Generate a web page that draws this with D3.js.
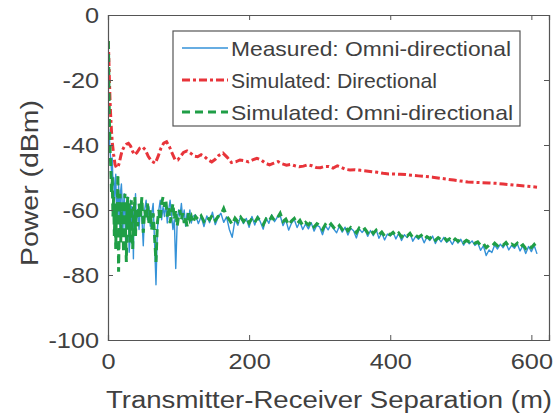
<!DOCTYPE html>
<html><head><meta charset="utf-8">
<script src="https://cdn.jsdelivr.net/npm/d3@7"></script>
<style>
html,body{margin:0;padding:0;background:#fff;}
svg{display:block;font-family:"Liberation Sans",Arial,sans-serif;}
</style></head>
<body><svg id="chart" width="555" height="418"></svg>
<script>
// ---- data (distance m, power dBm) ----
const xTicks = [0, 200, 400, 600];
const yTicks = [0, -20, -40, -60, -80, -100];
const seriesNames = ["Measured: Omni-directional", "Simulated: Directional", "Simulated: Omni-directional"];

const measuredOmni = [
[1,-35],[2,-38],[3,-42],[4,-45],[5,-48],[6,-44],[7,-52],[8,-50],[9,-57],[10,-53],
[11,-49],[12,-60],[13,-55],[14,-63],[15,-52],[16,-58],[17,-66],[18,-54],[19,-52],[20,-57],
[21,-68],[22,-59],[23,-55],[24,-62],[25,-70],[26,-58],[27,-64],[28,-56],[29,-61],[30,-73],
[31,-70],[32,-57],[33,-65],[34,-59],[35,-62],[36,-75],[37,-58],[38,-60],[39,-55],[40,-63],
[42,-60],[44,-66],[46,-58],[48,-62],[50,-71],[52,-60],[54,-57],[56,-63],[58,-59],[60,-65],
[62,-61],[64,-58],[66,-70],[68,-83],[70,-66],[72,-60],[74,-57],[76,-63],[78,-59],[80,-62],
[82,-58],[84,-64],[86,-60],[88,-57],[90,-61],[92,-66],[94,-63],[96,-78],[98,-64],[100,-60],
[102,-62],[104,-58],[106,-63],[108,-60],[110,-65],[112,-61],[114,-63],[116,-60],[118,-64],[120,-62],
[124,-61.5],[128,-64.2],[132,-62.0],[136,-65.1],[140,-61.8],[144,-63.9],[148,-60.7],[152,-64.5],[156,-62.3],[160,-61.0],
[164,-63.8],[168,-62.1],[172,-66.0],[176,-68.4],[180,-63.0],[184,-64.7],[188,-61.9],[192,-64.2],[196,-62.6],[200,-65.3],
[204,-62.0],[208,-64.6],[212,-61.8],[216,-63.7],[220,-65.9],[224,-62.4],[228,-64.1],[232,-61.5],[236,-63.6],[240,-62.2],
[244,-61.7],[248,-64.8],[252,-63.0],[256,-66.2],[260,-64.1],[264,-62.9],[268,-65.4],[272,-63.6],[276,-66.0],[280,-64.3],
[284,-65.8],[288,-63.9],[292,-66.5],[296,-64.7],[300,-65.2],[304,-67.6],[308,-64.8],[312,-66.1],[316,-64.4],[320,-65.9],
[324,-67.0],[328,-64.9],[332,-66.8],[336,-65.3],[340,-67.7],[344,-65.6],[348,-66.4],[352,-68.6],[356,-65.8],[360,-66.9],
[364,-65.9],[368,-68.1],[372,-66.3],[376,-67.9],[380,-66.0],[384,-68.7],[388,-67.1],[392,-69.2],[396,-67.4],[400,-68.0],
[404,-66.8],[408,-68.9],[412,-67.2],[416,-69.4],[420,-67.6],[424,-68.5],[428,-67.0],[432,-69.6],[436,-68.1],[440,-69.0],
[444,-67.9],[448,-70.1],[452,-68.3],[456,-69.4],[460,-68.0],[464,-70.3],[468,-68.6],[472,-69.8],[476,-68.4],[480,-70.0],
[484,-69.1],[488,-70.6],[492,-68.8],[496,-70.2],[500,-69.0],[504,-70.8],[508,-69.3],[512,-70.4],[516,-69.5],[520,-70.9],
[524,-70.1],[528,-72.4],[532,-71.0],[536,-74.0],[540,-72.3],[544,-73.1],[548,-70.8],[552,-72.0],[556,-70.5],[560,-71.6],
[564,-70.2],[568,-72.3],[572,-70.9],[576,-71.8],[580,-70.4],[584,-72.6],[588,-71.0],[592,-73.4],[596,-71.2],[600,-72.8],
[604,-70.9],[608,-73.5]
];

const simulatedDirectional = [
[0.5,-8],[1,-12],[2,-20],[3,-27],[4,-32],[5,-36],[6,-39],[8,-43],[10,-46],[12,-47],
[14,-46.8],[16,-45.5],[18,-43.5],[20,-41.8],[23,-40.5],[26,-39.8],[29,-39.5],[32,-40.3],[35,-42],[38,-43],
[41,-42.3],[45,-41],[49,-40.6],[53,-41.5],[57,-43.5],[62,-45],[67,-45.6],[71,-43.5],[75,-41],[79,-39.4],
[83,-39],[87,-40.5],[91,-42.6],[95,-44.5],[99,-44.6],[103,-43.4],[107,-42.3],[112,-41.8],[117,-42.5],[122,-43.4],
[127,-43.6],[132,-43],[137,-43.6],[142,-44.6],[147,-45.2],[152,-44.4],[157,-43.2],[163,-42.5],[169,-43.8],[175,-45.4],
[181,-45.2],[187,-44.6],[193,-44.8],[199,-45.2],[205,-44.6],[211,-44.1],[217,-44.6],[223,-45.6],[229,-46.1],[235,-45.6],
[241,-45.1],[247,-45.8],[253,-46.2],[259,-46.0],[265,-46.4],[271,-46.7],[277,-46.5],[283,-46.1],[289,-46.4],[295,-46.9],
[301,-47.0],[307,-46.6],[313,-46.6],[319,-47.1],[325,-46.4],[331,-46.9],[337,-47.5],[343,-47.7],[350,-47.6],[358,-47.8],
[366,-48.0],[374,-48.2],[382,-48.4],[390,-48.7],[398,-48.9],[406,-48.9],[414,-49.0],[422,-49.1],[430,-49.3],[440,-49.5],
[450,-49.7],[460,-49.9],[470,-50.2],[480,-50.5],[490,-50.8],[500,-51.1],[510,-51.4],[520,-51.5],[530,-51.6],[540,-51.7],
[550,-51.8],[560,-52.0],[570,-52.2],[580,-52.4],[590,-52.6],[600,-52.8],[608,-53.0]
];

const simulatedOmni = [
[0.5,-8],[1,-15],[1.5,-25],[2,-33],[3,-42],[4,-47],[5,-55],[6,-50],[7,-62],[8,-56],
[9,-68],[10,-60],[11,-72],[12,-58],[13,-65],[14,-49],[15,-79],[16,-63],[17,-55],[18,-70],
[19,-60],[20,-67],[21,-57],[22,-73],[23,-62],[24,-55],[25,-68],[26,-76],[27,-60],[28,-56],
[29,-66],[30,-58],[31,-70],[32,-61],[33,-57],[34,-64],[35,-72],[36,-59],[37,-63],[38,-56],
[39,-68],[40,-60],[42,-65],[44,-58],[46,-62],[48,-56],[50,-67],[52,-60],[54,-63],[56,-58],
[58,-64],[60,-60],[62,-66],[64,-61],[66,-68],[68,-76],[70,-64],[72,-60],[74,-63],[76,-58],
[78,-56],[80,-59],[82,-57],[84,-62],[86,-59],[88,-64],[90,-61],[92,-58],[94,-63],[96,-60],
[98,-65],[100,-62],[102,-60],[104,-63],[106,-61],[108,-64],[110,-62],[112,-65],[114,-61],[116,-63],
[118,-62],[120,-64],
[124,-62.0],[128,-63.0],[132,-61.8],[136,-63.5],[140,-62.2],[144,-63.0],[148,-61.5],[152,-63.2],[156,-62.0],[160,-61.5],
[164,-59.5],[168,-61.8],[172,-63.0],[176,-64.5],[180,-62.5],[184,-63.6],[188,-62.2],[192,-63.5],[196,-62.4],[200,-64.0],
[204,-62.6],[208,-63.8],[212,-62.4],[216,-63.4],[220,-64.5],[224,-62.8],[228,-63.5],[232,-62.0],[236,-63.2],[240,-62.5],
[244,-61.0],[248,-63.5],[252,-62.8],[256,-64.6],[260,-63.4],[264,-62.6],[268,-64.2],[272,-63.2],[276,-64.8],[280,-63.8],
[284,-64.6],[288,-63.6],[292,-65.2],[296,-64.2],[300,-64.8],[304,-66.0],[308,-64.5],[312,-65.3],[316,-64.3],[320,-65.4],
[324,-66.0],[328,-64.8],[332,-66.0],[336,-65.0],[340,-66.4],[344,-65.4],[348,-66.0],[352,-67.0],[356,-65.6],[360,-66.4],
[364,-65.8],[368,-67.0],[372,-66.0],[376,-67.2],[380,-66.2],[384,-67.6],[388,-66.8],[392,-68.0],[396,-67.2],[400,-67.6],
[404,-66.9],[408,-67.9],[412,-67.1],[416,-68.3],[420,-67.4],[424,-68.0],[428,-67.2],[432,-68.5],[436,-67.8],[440,-68.4],
[444,-67.8],[448,-69.0],[452,-68.2],[456,-68.8],[460,-68.0],[464,-69.3],[468,-68.5],[472,-69.1],[476,-68.4],[480,-69.4],
[484,-68.9],[488,-69.8],[492,-68.9],[496,-69.6],[500,-69.0],[504,-70.0],[508,-69.3],[512,-69.8],[516,-69.4],[520,-70.2],
[524,-69.8],[528,-70.9],[532,-70.3],[536,-71.6],[540,-70.8],[544,-71.2],[548,-70.2],[552,-71.0],[556,-70.2],[560,-70.8],
[564,-70.0],[568,-71.2],[572,-70.5],[576,-71.0],[580,-70.2],[584,-71.4],[588,-70.7],[592,-71.8],[596,-70.9],[600,-71.6],
[604,-70.6],[608,-71.8]
];

// ---- layout ----
const W = 555, H = 418;
const M = {left:108, top:15, right:6, bottom:78};
const pw = W - M.left - M.right, ph = H - M.top - M.bottom;
const axisColor = "#555", textColor = "#404040";
const colors = ["#3592d8", "#e8343a", "#1f9e46"];
const FONT = "'Liberation Sans',Arial,sans-serif";
const SX = 1.15; // horizontal stretch of the reference lettering

const svg = d3.select("#chart");
const x = d3.scaleLinear().domain([0, 625]).range([0, pw]);
const y = d3.scaleLinear().domain([-100, 0]).range([ph, 0]);

const g = svg.append("g").attr("transform", `translate(${M.left},${M.top})`);
g.append("rect").attr("width", pw).attr("height", ph).attr("fill", "#fff");

const defs = svg.append("defs");
defs.append("clipPath").attr("id","clip").append("rect").attr("width", pw).attr("height", ph);

const line = d3.line().x(d => x(d[0])).y(d => y(d[1]));
const plot = g.append("g").attr("clip-path","url(#clip)");

plot.append("path").datum(measuredOmni).attr("d", line)
  .attr("fill","none").attr("stroke", colors[0]).attr("stroke-width",1.4).attr("stroke-linejoin","round");
plot.append("path").datum(simulatedDirectional).attr("d", line)
  .attr("fill","none").attr("stroke", colors[1]).attr("stroke-width",3).attr("stroke-dasharray","8,3,3,3");
plot.append("path").datum(simulatedOmni).attr("d", line)
  .attr("fill","none").attr("stroke", colors[2]).attr("stroke-width",3).attr("stroke-dasharray","8,5");

// axes (MATLAB box style, inward ticks)
const tl = 5;
const ax = g.append("g").attr("transform", `translate(0,${ph})`)
  .call(d3.axisBottom(x).tickValues(xTicks).tickSize(-tl).tickPadding(13).tickFormat(d3.format("d")));
const ay = g.append("g")
  .call(d3.axisLeft(y).tickValues(yTicks).tickSize(-tl).tickPadding(8).tickFormat(d => d3.format("d")(d).replace("−","-")));
const axT = g.append("g").call(d3.axisTop(x).tickValues(xTicks).tickSize(-tl).tickFormat(""));
const ayR = g.append("g").attr("transform", `translate(${pw},0)`).call(d3.axisRight(y).tickValues(yTicks).tickSize(-tl).tickFormat(""));
[ax, ay, axT, ayR].forEach(a => {
  a.selectAll(".domain").attr("stroke", axisColor).attr("stroke-width", 1.2);
  a.selectAll(".tick line").attr("stroke", axisColor).attr("stroke-width", 1);
  a.selectAll("text").attr("fill", textColor).style("font-size","22px").attr("font-family", FONT);
});
ax.selectAll("text").attr("dy","0.71em").attr("transform", `scale(${SX},1)`);
ay.selectAll("text").attr("x", -9 / SX).attr("transform", `scale(${SX},1)`);

// axis titles
svg.append("text").attr("x", 329).attr("y", 408)
  .attr("text-anchor","middle").attr("fill", textColor).style("font-size","23px").attr("font-family", FONT)
  .attr("textLength", 446).attr("lengthAdjust","spacingAndGlyphs")
  .text("Transmitter-Receiver Separation (m)");
svg.append("text").attr("transform", `translate(38,183) rotate(-90)`)
  .attr("text-anchor","middle").attr("fill", textColor).style("font-size","23px").attr("font-family", FONT)
  .attr("textLength", 166).attr("lengthAdjust","spacingAndGlyphs")
  .text("Power (dBm)");

// legend
const lg = svg.append("g").attr("transform","translate(173,31)");
lg.append("rect").attr("width", 347).attr("height", 95).attr("fill","#fff")
  .attr("stroke","#555").attr("stroke-width",1.2);
const dashes = [null, "8,3,3,3", "8,5"];
const widths = [1.4, 3, 3];
const legendLens = [280, 206, 282];
seriesNames.forEach((nm, i) => {
  const cy = 17 + i*32;
  const l = lg.append("line").attr("x1",9).attr("x2",55).attr("y1",cy).attr("y2",cy)
    .attr("stroke", colors[i]).attr("stroke-width", widths[i]);
  if (dashes[i]) l.attr("stroke-dasharray", dashes[i]);
  lg.append("text").attr("x",58).attr("y",cy).attr("dy","0.36em")
    .attr("fill", textColor).style("font-size","21px").attr("font-family", FONT)
    .attr("textLength", legendLens[i]).attr("lengthAdjust","spacingAndGlyphs").text(nm);
});
</script></body></html>
